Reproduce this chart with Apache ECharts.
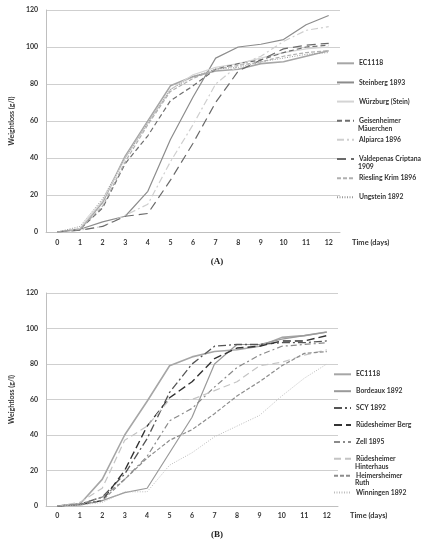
<!DOCTYPE html>
<html>
<head>
<meta charset="utf-8">
<script src="https://cdn.jsdelivr.net/npm/echarts@6/dist/echarts.min.js"></script>
<style>
  html, body { margin: 0; padding: 0; background: #fff; }
  #chart { width: 434px; height: 550px; }
</style>
</head>
<body>
<div id="chart"></div>
<script>
// time axis, shared by both panels
var days = ['0', '1', '2', '3', '4', '5', '6', '7', '8', '9', '10', '11', '12']

// panel A
var namesA = ['EC1118', 'Steinberg 1893', 'Würzburg (Stein)', 'Geisenheimer Mäuerchen',
    'Alpiarca 1896', 'Valdepenas Criptana 1909', 'Riesling Krim 1896', 'Ungstein 1892']
var ec1118A = [0, 1.5, 16, 41, 60, 79, 84, 87, 88, 91, 92, 95, 98]
var steinberg = [0, 1.5, 5.5, 8.5, 22, 50, 73, 94, 100, 101.5, 104, 112, 117]
var wurzburg = [0, 2, 17, 40, 59, 77, 85, 89, 91, 94, 97, 99, 100]
var geisenheimer = [0, 1.5, 13, 37, 52, 71, 79, 88, 91, 93, 97, 100, 101]
var alpiarca = [0, 1, 3, 9, 15, 38, 58, 80, 90, 95, 103, 109, 111]
var valdepenas = [0, 1, 3, 8.5, 10, 28, 48, 70, 87, 93, 99, 101, 102]
var riesling = [0, 1.5, 14, 38, 58, 76, 83, 88, 90, 92, 95, 97, 98]
var ungstein = [0, 3, 18, 40, 59, 77, 84, 88, 89, 92, 94, 96, 97]

// panel B
var namesB = ['EC1118', 'Bordeaux 1892', 'SCY 1892', 'Rüdesheimer Berg', 'Zell 1895',
    'Rüdesheimer Hinterhaus', 'Heimersheimer Ruth', 'Winningen 1892']
var ec1118B = [0, 1, 15, 40, 59, 79, 84, 87, 88, 90, 95, 96, 98]
var bordeaux = [0, 0.5, 3, 7.5, 10, 30, 50, 80, 91, 91, 94, 96, 98]
var scy = [0, 1, 5, 18, 38, 64, 80, 90, 91, 91, 92, 92, 93]
var rudBerg = [0, 1, 3, 20, 45, 61, 70, 83, 89, 90, 93, 93, 96]
var zell = [0, 1, 5, 15, 28, 48, 55, 67, 78, 85, 90, 91, 92]
var rudHinter = [0, 2, 10, 37, 45, 60, 60, 65, 70, 79, 81, 85, 88]
var heimersheimer = [0, 1, 3, 15, 27, 37, 43, 52, 62, 70, 79, 86, 87]
var winningen = [0, 0.5, 2, 8, 8, 23, 30, 39, 45, 51, 62, 72, 80]

var yTicks = [0, 20, 40, 60, 80, 100, 120]

// legend shows only the first line, second lines are drawn below
var firstLine = {
    'Geisenheimer Mäuerchen': 'Geisenheimer',
    'Valdepenas Criptana 1909': 'Valdepenas Criptana',
    'Rüdesheimer Hinterhaus': 'Rüdesheimer',
    'Heimersheimer Ruth': 'Heimersheimer'
}

var lbl = {
    fontFamily: 'Lato',
    fontWeight: 'bold',
    fontSize: 7,
    color: '#333'
}

var mkX = function(grid, margin) {
    return {
        type: 'category',
        gridIndex: grid,
        data: days,
        boundaryGap: true,
        name: 'Time (days)',
        nameLocation: 'end',
        nameGap: 12,
        nameTextStyle: {
            fontFamily: 'Lato', fontWeight: 'bold', fontSize: 7.5, color: '#333',
            verticalAlign: 'top', padding: [margin, 0, 0, 0]
        },
        axisLine: { lineStyle: { color: '#bfbfbf', width: 1 } },
        axisTick: { show: false },
        axisLabel: Object.assign({ margin: margin, interval: 0 }, lbl),
        splitLine: { show: false }
    }
}

var mkY = function(grid, gap) {
    return {
        type: 'value',
        gridIndex: grid,
        min: yTicks[0],
        max: yTicks[yTicks.length - 1],
        interval: 20,
        name: 'Weightloss (g/l)',
        nameLocation: 'middle',
        nameGap: gap,
        nameTextStyle: { fontFamily: 'Lato', fontWeight: 'bold', fontSize: 7, color: '#333' },
        axisLine: { show: true, lineStyle: { color: '#bfbfbf', width: 1 } },
        axisTick: { show: false },
        axisLabel: Object.assign({ margin: 8 }, lbl),
        splitLine: { lineStyle: { color: '#cfcfcf', width: 1 } }
    }
}

var mkLine = function(name, data, grid, color, width, dash) {
    return {
        type: 'line',
        name: name,
        data: data,
        xAxisIndex: grid,
        yAxisIndex: grid,
        symbol: 'none',
        showSymbol: false,
        smooth: false,
        color: color,
        lineStyle: { color: color, width: width, type: dash },
        emphasis: { disabled: true }
    }
}

var seriesA = [
    mkLine(namesA[0], ec1118A, 0, '#a6a6a6', 1.6, 'solid'),
    mkLine(namesA[1], steinberg, 0, '#8c8c8c', 1.2, 'solid'),
    mkLine(namesA[2], wurzburg, 0, '#d4d4d4', 1.2, 'solid'),
    mkLine(namesA[3], geisenheimer, 0, '#6e6e6e', 1.2, [5, 3]),
    mkLine(namesA[4], alpiarca, 0, '#cfcfcf', 1.2, [7, 3, 2, 3]),
    mkLine(namesA[5], valdepenas, 0, '#6a6a6a', 1.2, [9, 5]),
    mkLine(namesA[6], riesling, 0, '#b0b0b0', 1.2, [4, 2]),
    mkLine(namesA[7], ungstein, 0, '#9a9a9a', 1, [1, 1.5])
]

var seriesB = [
    mkLine(namesB[0], ec1118B, 1, '#a6a6a6', 1.6, 'solid'),
    mkLine(namesB[1], bordeaux, 1, '#9a9a9a', 1.2, 'solid'),
    mkLine(namesB[2], scy, 1, '#555555', 1.3, [8, 3, 2, 3]),
    mkLine(namesB[3], rudBerg, 1, '#333333', 1.4, [8, 4]),
    mkLine(namesB[4], zell, 1, '#8a8a8a', 1.2, [6, 3, 2, 3]),
    mkLine(namesB[5], rudHinter, 1, '#c4c4c4', 1.2, [7, 4]),
    mkLine(namesB[6], heimersheimer, 1, '#8c8c8c', 1.2, [4, 2]),
    mkLine(namesB[7], winningen, 1, '#bdbdbd', 1, [1, 1.5])
]

var legendText = {
    fontFamily: 'Lato', fontWeight: 'bold', fontSize: 6.8, color: '#333', lineHeight: 10
}

var subText = function(x, y, t) {
    return {
        type: 'text', left: x, top: y,
        style: { text: t, fontFamily: 'Lato', fontWeight: 'bold', fontSize: 6.8, fill: '#333' }
    }
}

var chartDom = document.getElementById('chart')
var myChart = echarts.init(chartDom)
var option = {
    animation: false,
    backgroundColor: '#fff',
    grid: [
        { left: 35, top: 10, width: 305, height: 222 },
        { left: 45, top: 293, width: 293, height: 213 }
    ],
    xAxis: [mkX(0, 7), mkX(1, 6)],
    yAxis: [mkY(0, 21), mkY(1, 20)],
    legend: [{
        data: namesA,
        orient: 'vertical',
        left: 336, top: 58.3,
        padding: 0,
        itemWidth: 17, itemHeight: 10, itemGap: 9.14,
        selectedMode: false,
        itemStyle: { opacity: 0 },
        textStyle: legendText,
        formatter: function(n) { return firstLine[n] || n }
    }, {
        data: namesB,
        orient: 'vertical',
        left: 333, top: 369.3,
        padding: 0,
        itemWidth: 17, itemHeight: 10, itemGap: 6.9,
        selectedMode: false,
        itemStyle: { opacity: 0 },
        textStyle: legendText,
        formatter: function(n) { return firstLine[n] || n }
    }],
    graphic: [
        subText(358, 125.5, 'Mäuerchen'),
        subText(358, 163.5, '1909'),
        subText(355, 463.5, 'Hinterhaus'),
        subText(355, 479.5, 'Ruth'),
        {
            type: 'text', left: 'center', top: 257,
            style: { text: '(A)', fontFamily: 'Liberation Serif', fontWeight: 'bold', fontSize: 9, fill: '#222' }
        },
        {
            type: 'text', left: 'center', top: 530,
            style: { text: '(B)', fontFamily: 'Liberation Serif', fontWeight: 'bold', fontSize: 9, fill: '#222' }
        }
    ],
    series: seriesA.concat(seriesB)
}
option && myChart.setOption(option)
</script>
</body>
</html>
